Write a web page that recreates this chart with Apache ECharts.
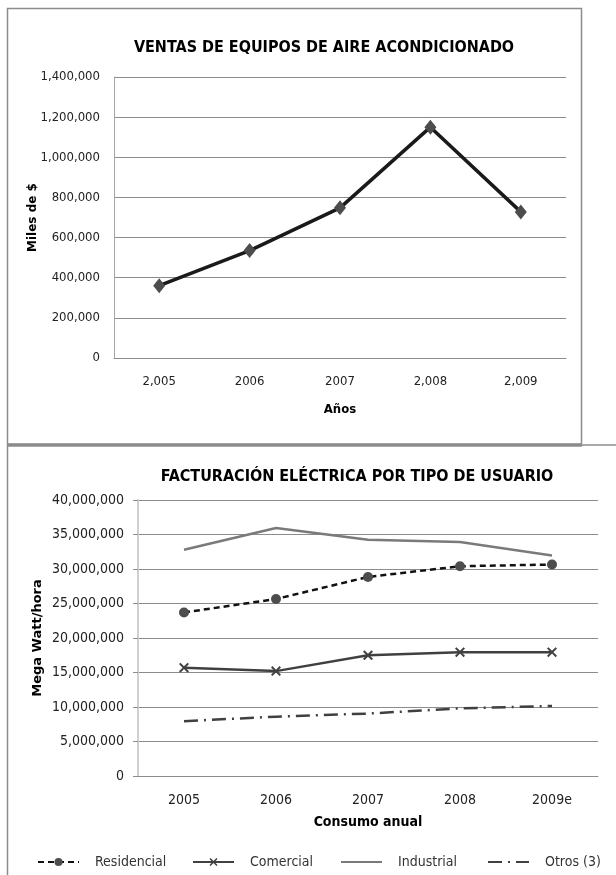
<!DOCTYPE html>
<html>
<head>
<meta charset="utf-8">
<script src="https://cdn.jsdelivr.net/npm/echarts@6/dist/echarts.min.js"></script>
<style>
html,body{margin:0;padding:0;background:#fff;}
#c{width:616px;height:875px;}
</style>
</head>
<body>
<div id="c"></div>
<script>
// ---- Chart 1 data ----
var ventasYears = ['2,005', '2006', '2007', '2,008', '2,009'];
var ventasValues = [360000, 535000, 748000, 1150000, 728000];
var ventasTicks = {min: 0, max: 1400000, interval: 200000};

// ---- Chart 2 data ----
var consumoYears = ['2005', '2006', '2007', '2008', '2009e'];
var residencial = [23700000, 25650000, 28850000, 30400000, 30650000];
var comercial = [15700000, 15200000, 17500000, 17950000, 17950000];
var industrial = [32800000, 35950000, 34250000, 33900000, 31950000];
var otros = [7950000, 8600000, 9050000, 9800000, 10150000];
var consumoTicks = {min: 0, max: 40000000, interval: 5000000};

var FONT = '"Liberation Sans Narrow", "DejaVu Sans Condensed", sans-serif';
var chart = echarts.init(document.getElementById('c'), null, {renderer: 'canvas'});

var xSym = 'path://M0,1.4 L1.4,0 L5,3.6 L8.6,0 L10,1.4 L6.4,5 L10,8.6 L8.6,10 L5,6.4 L1.4,10 L0,8.6 L3.6,5 Z';

function legendFor(name, left, hideSymbol) {
  var l = {
    data: [name], left: left, top: 850, itemWidth: 41, itemHeight: 10,
    textStyle: {fontFamily: FONT, fontSize: 14, color: '#333', padding: [0, 0, 0, 11]},
    selectedMode: false
  };
  if (hideSymbol) l.itemStyle = {opacity: 0};
  return l;
}

chart.setOption({
  animation: false,
  textStyle: {fontFamily: FONT},
  title: [
    {text: 'VENTAS DE EQUIPOS DE AIRE ACONDICIONADO', left: 319, top: 35, textAlign: 'center',
     textStyle: {fontFamily: FONT, fontSize: 16, fontWeight: 'bold', color: '#000'}},
    {text: 'FACTURACIÓN ELÉCTRICA POR TIPO DE USUARIO', left: 352, top: 464, textAlign: 'center',
     textStyle: {fontFamily: FONT, fontSize: 16, fontWeight: 'bold', color: '#000'}}
  ],
  grid: [
    {left: 114, top: 77, width: 452, height: 281},
    {left: 138, top: 500, width: 460, height: 276}
  ],
  xAxis: [
    {type: 'category', gridIndex: 0, data: ventasYears, boundaryGap: true,
     name: 'Años', nameLocation: 'middle', nameGap: 45,
     nameTextStyle: {fontFamily: FONT, fontSize: 13, fontWeight: 'bold', color: '#000'},
     axisLine: {lineStyle: {color: '#8c8c8c', width: 1}}, axisTick: {show: false},
     axisLabel: {fontFamily: FONT, fontSize: 13, color: '#222', margin: 17}},
    {type: 'category', gridIndex: 1, data: consumoYears, boundaryGap: true,
     name: 'Consumo anual', nameLocation: 'middle', nameGap: 39,
     nameTextStyle: {fontFamily: FONT, fontSize: 14, fontWeight: 'bold', color: '#000'},
     axisLine: {lineStyle: {color: '#8c8c8c', width: 1}}, axisTick: {show: false},
     axisLabel: {fontFamily: FONT, fontSize: 14, color: '#222', margin: 17}}
  ],
  yAxis: [
    {type: 'value', gridIndex: 0, min: ventasTicks.min, max: ventasTicks.max, interval: ventasTicks.interval,
     name: 'Miles de $', nameLocation: 'middle', nameGap: 75, nameRotate: 90, nameMoveOverlap: false,
     nameTextStyle: {fontFamily: 'DejaVu Sans', fontSize: 12, fontWeight: 'bold', color: '#000'},
     axisLine: {show: true, lineStyle: {color: '#a6a6a6', width: 1}}, axisTick: {show: false},
     splitLine: {lineStyle: {color: '#8c8c8c', width: 1}},
     axisLabel: {fontFamily: FONT, fontSize: 13, color: '#222', margin: 14}},
    {type: 'value', gridIndex: 1, min: consumoTicks.min, max: consumoTicks.max, interval: consumoTicks.interval,
     name: 'Mega Watt/hora', nameLocation: 'middle', nameGap: 94, nameRotate: 90, nameMoveOverlap: false,
     nameTextStyle: {fontFamily: 'DejaVu Sans', fontSize: 13, fontWeight: 'bold', color: '#000'},
     axisLine: {show: true, lineStyle: {color: '#d0d0d0', width: 2}},
     axisTick: {show: true, length: 5, lineStyle: {color: '#8c8c8c'}},
     splitLine: {lineStyle: {color: '#8c8c8c', width: 1}},
     axisLabel: {fontFamily: FONT, fontSize: 14, color: '#222', margin: 14}}
  ],
  legend: [
    legendFor('Residencial', 32, false),
    legendFor('Comercial', 187, false),
    legendFor('Industrial', 335, true),
    legendFor('Otros (3)', 482, true)
  ],
  series: [
    {name: 'Ventas', type: 'line', xAxisIndex: 0, yAxisIndex: 0, data: ventasValues,
     symbol: 'diamond', symbolSize: [12, 15],
     itemStyle: {color: '#4d4d4d'}, lineStyle: {color: '#1a1a1a', width: 3.5}},
    {name: 'Residencial', type: 'line', xAxisIndex: 1, yAxisIndex: 1, data: residencial,
     symbol: 'circle', symbolSize: 10,
     itemStyle: {color: '#4d4d4d'}, lineStyle: {color: '#111', width: 2.5, type: [6, 4]}},
    {name: 'Comercial', type: 'line', xAxisIndex: 1, yAxisIndex: 1, data: comercial,
     symbol: xSym, symbolSize: 10,
     itemStyle: {color: '#404040'}, lineStyle: {color: '#404040', width: 2.5}},
    {name: 'Industrial', type: 'line', xAxisIndex: 1, yAxisIndex: 1, data: industrial,
     symbol: 'none',
     itemStyle: {color: '#7a7a7a'}, lineStyle: {color: '#7a7a7a', width: 2.5}},
    {name: 'Otros (3)', type: 'line', xAxisIndex: 1, yAxisIndex: 1, data: otros,
     symbol: 'none',
     itemStyle: {color: '#404040'}, lineStyle: {color: '#404040', width: 2.5, type: [14, 6, 2, 6]}}
  ],
  graphic: [
    {type: 'rect', shape: {x: 7.5, y: 8.5, width: 574, height: 436}, style: {fill: 'none', stroke: '#8c8c8c', lineWidth: 1.5}, silent: true},
    {type: 'line', shape: {x1: 7, y1: 445, x2: 582, y2: 445}, style: {stroke: '#8c8c8c', lineWidth: 3.5}, silent: true},
    {type: 'line', shape: {x1: 582, y1: 445, x2: 616, y2: 445}, style: {stroke: '#8c8c8c', lineWidth: 1.5}, silent: true},
    {type: 'line', shape: {x1: 7.5, y1: 445, x2: 7.5, y2: 875}, style: {stroke: '#8c8c8c', lineWidth: 1.5}, silent: true}
  ]
});
</script>
</body>
</html>
